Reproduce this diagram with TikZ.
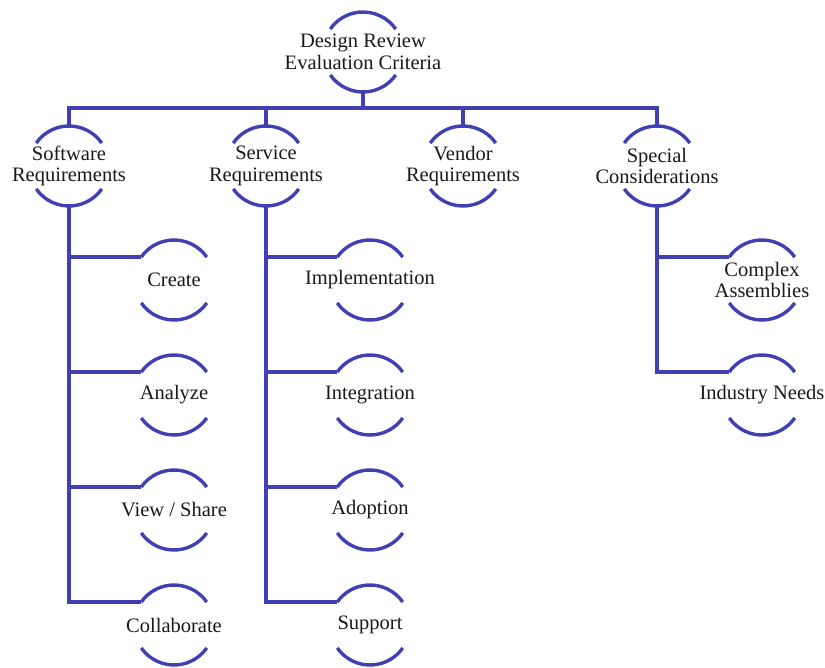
\documentclass[tikz,border=0pt]{standalone}
\usepackage{fontspec}
\setmainfont{Liberation Serif}
\definecolor{linkblue}{RGB}{64,64,180}
\definecolor{txtgray}{RGB}{25,25,25}
\begin{document}
\begin{tikzpicture}[x=1pt,y=-1pt,
  hub/.style={circle, minimum size=80pt, inner sep=0pt, outer sep=0pt},
  txt/.style={align=center, inner sep=0pt, text=txtgray, font=\fontsize{20.5}{21.5}\selectfont},
  link/.style={draw=linkblue, line width=3.4pt, line join=miter}]
\useasboundingbox (0,0) rectangle (825,668);
% hubs
\node[hub] (root) at (363,52) {};
\node[hub] (sw) at (69,166) {};
\node[hub] (sv) at (266,166) {};
\node[hub] (vd) at (463,166) {};
\node[hub] (sp) at (657,166) {};
\node[hub] (cr) at (174,280) {};
\node[hub] (an) at (174,395) {};
\node[hub] (vs) at (174,510) {};
\node[hub] (co) at (174,625) {};
\node[hub] (im) at (370,280) {};
\node[hub] (ig) at (370,395) {};
\node[hub] (ad) at (370,510) {};
\node[hub] (su) at (370,625) {};
\node[hub] (ca) at (762,280) {};
\node[hub] (in) at (762,395) {};
% texts
\node[txt] (rootT) at (root) {Design Review\\Evaluation Criteria};
\node[txt] (swT) at (sw) {Software\\Requirements};
\node[txt] (svT) at (sv) {Service\\Requirements};
\node[txt] (vdT) at (vd) {Vendor\\Requirements};
\node[txt] (spT) at (sp) {Special\\Considerations};
\node[txt] (crT) at (cr) {Create};
\node[txt] (anT) at (an) {Analyze};
\node[txt] (vsT) at (vs) {View / Share};
\node[txt] (coT) at (co) {Collaborate};
\node[txt] (imT) at (im) {Implementation};
\node[txt] (igT) at (ig) {Integration};
\node[txt] (adT) at (ad) {Adoption};
\node[txt] (suT) at (su) {Support};
\node[txt] (caT) at (ca) {Complex\\Assemblies};
\node[txt] (inT) at (in) {Industry Needs};
% arcs
\foreach \n in {root,sw,sv,vd,sp,cr,an,vs,co,im,ig,ad,su,ca,in}{
  \draw[link] (\n.35) arc[start angle=35,end angle=145,radius=40pt];
  \draw[link] (\n.215) arc[start angle=215,end angle=325,radius=40pt];
}
% bus
\coordinate (bus) at (363,108);
\draw[link] (root.south) -- (bus);
\draw[link] (sw.north) |- (bus) -| (sp.north);
\draw[link] (sv.north) -- (sv.north |- bus);
\draw[link] (vd.north) -- (vd.north |- bus);
% software branch
\draw[link] (sw.south) |- (co.145);
\draw[link] (sw.south |- cr.145) -- (cr.145);
\draw[link] (sw.south |- an.145) -- (an.145);
\draw[link] (sw.south |- vs.145) -- (vs.145);
% service branch
\draw[link] (sv.south) |- (su.145);
\draw[link] (sv.south |- im.145) -- (im.145);
\draw[link] (sv.south |- ig.145) -- (ig.145);
\draw[link] (sv.south |- ad.145) -- (ad.145);
% special branch
\draw[link] (sp.south) |- (in.145);
\draw[link] (sp.south |- ca.145) -- (ca.145);
\end{tikzpicture}
\end{document}
